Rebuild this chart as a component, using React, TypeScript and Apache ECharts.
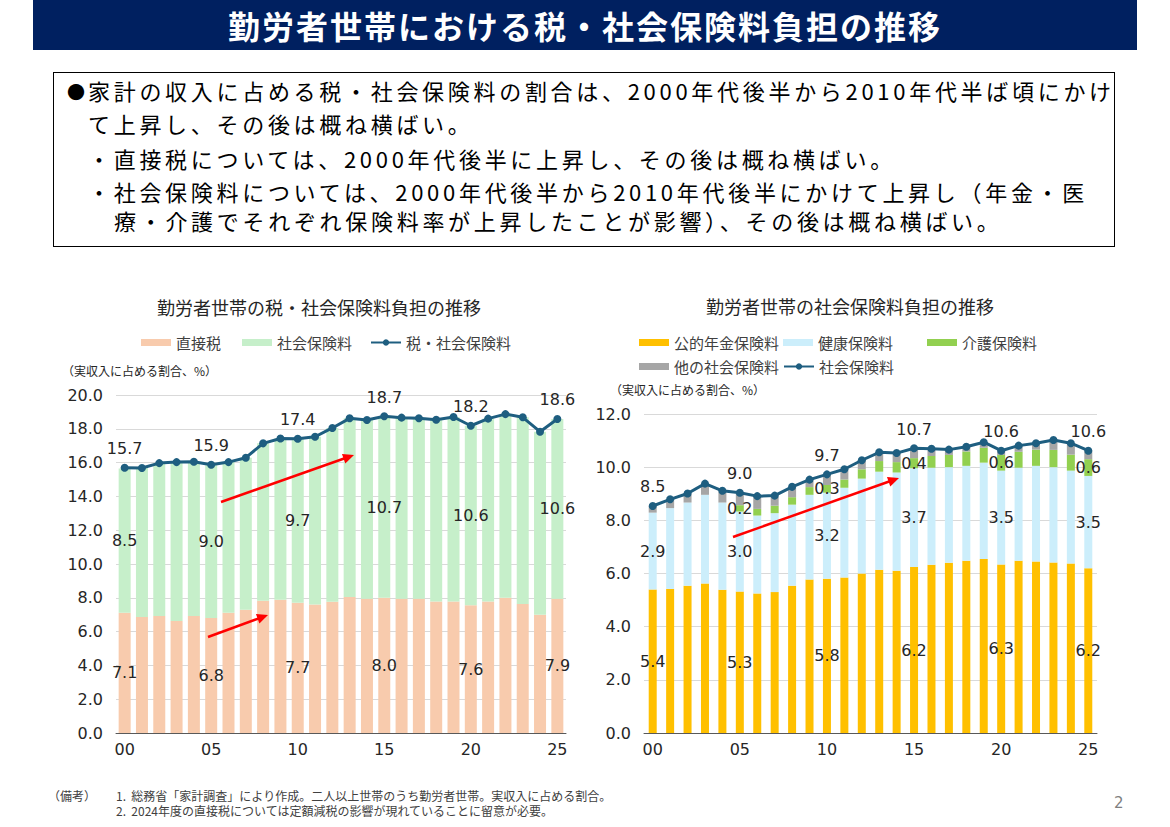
import React, { useEffect, useRef } from "react";
import * as echarts from "echarts";

// ---------- data ----------
const years = ["00","01","02","03","04","05","06","07","08","09","10","11","12","13","14","15","16","17","18","19","20","21","22","23","24","25"];

// left chart (実収入に占める割合、%)
const directTax = [7.11, 6.87, 6.93, 6.63, 6.93, 6.81, 7.11, 7.30, 7.82, 7.88, 7.70, 7.60, 7.76, 8.04, 7.94, 8.00, 7.94, 7.94, 7.78, 7.78, 7.56, 7.78, 8.00, 7.64, 6.99, 7.94];
const socialInsurance = [8.54, 8.81, 9.04, 9.40, 9.12, 9.04, 8.92, 8.99, 9.32, 9.55, 9.71, 9.93, 10.29, 10.58, 10.58, 10.74, 10.72, 10.68, 10.76, 10.92, 10.62, 10.82, 10.87, 11.04, 10.84, 10.64];
const taxAndSocial = [15.70, 15.68, 15.97, 16.03, 16.05, 15.87, 16.03, 16.29, 17.14, 17.43, 17.41, 17.53, 18.05, 18.62, 18.52, 18.74, 18.66, 18.62, 18.54, 18.70, 18.18, 18.60, 18.87, 18.68, 17.83, 18.58];

// right chart
const pension = [5.40, 5.42, 5.54, 5.62, 5.39, 5.32, 5.25, 5.30, 5.54, 5.77, 5.80, 5.85, 6.00, 6.14, 6.10, 6.24, 6.33, 6.40, 6.48, 6.55, 6.34, 6.48, 6.45, 6.41, 6.38, 6.20];
const health = [2.89, 3.04, 3.13, 3.34, 3.28, 3.01, 2.93, 2.97, 3.05, 3.19, 3.24, 3.38, 3.57, 3.69, 3.70, 3.72, 3.65, 3.60, 3.57, 3.62, 3.53, 3.50, 3.60, 3.59, 3.49, 3.47];
const nursingCare = [0, 0, 0, 0, 0, 0.24, 0.25, 0.28, 0.28, 0.29, 0.29, 0.31, 0.35, 0.40, 0.39, 0.38, 0.44, 0.46, 0.54, 0.56, 0.59, 0.60, 0.61, 0.65, 0.60, 0.63];
const otherInsurance = [0.25, 0.33, 0.34, 0.42, 0.44, 0.47, 0.48, 0.38, 0.39, 0.28, 0.40, 0.38, 0.34, 0.33, 0.34, 0.37, 0.27, 0.20, 0.18, 0.21, 0.16, 0.23, 0.24, 0.37, 0.43, 0.32];
const socialTotal = [8.54, 8.79, 9.01, 9.38, 9.11, 9.04, 8.91, 8.93, 9.26, 9.53, 9.73, 9.92, 10.26, 10.56, 10.53, 10.71, 10.69, 10.66, 10.77, 10.94, 10.62, 10.81, 10.90, 11.02, 10.90, 10.62];

// ---------- styles ----------
const JP = '"Noto Sans CJK JP", "Noto Sans CJK SC", sans-serif';
const NUM = '"DejaVu Sans", Verdana, sans-serif';
const TXT = "#262626";
const LINE_COLOR = "#1E5E80";

const every5 = (p: any) => {
  const v = Number(p.value);
  if (p.dataIndex % 5 !== 0 || !v) return "";
  return v.toFixed(1);
};

function arrow(x1: number, y1: number, x2: number, y2: number) {
  const dx = x2 - x1, dy = y2 - y1;
  const len = Math.sqrt(dx * dx + dy * dy);
  const ux = dx / len, uy = dy / len;
  const nx = -uy, ny = ux;
  const hl = 11, hw = 5;
  const bx = x2 - ux * hl, by = y2 - uy * hl;
  return [
    { type: "line", z: 100, shape: { x1, y1, x2: bx + ux * 2, y2: by + uy * 2 }, style: { stroke: "#FF0000", lineWidth: 2.5 } },
    { type: "polygon", z: 100, shape: { points: [[x2, y2], [bx + nx * hw, by + ny * hw], [bx - nx * hw, by - ny * hw]] }, style: { fill: "#FF0000" } },
  ];
}

function label(text: string, x: number, y: number, size: number, align = "center") {
  return {
    type: "text", x, y, z: 100,
    style: { text, fill: TXT, fontSize: size, fontFamily: JP, align, verticalAlign: "middle", textAlign: align, textVerticalAlign: "middle" },
  };
}

function legendItem(name: string, left: number, top: number, bar: boolean) {
  const o: any = {
    left, top, padding: 0, itemWidth: 30, itemHeight: bar ? 7 : 8,
    data: [name], selectedMode: false,
    textStyle: { fontSize: 15, color: "#404040", fontFamily: JP },
  };
  if (bar) o.icon = "rect";
  return o;
}

function baseAxes(max: number) {
  return {
    xAxis: {
      type: "category", data: years,
      axisLine: { lineStyle: { color: "#595959", width: 1 } },
      axisTick: { show: false },
      axisLabel: { interval: 4, fontSize: 16, color: TXT, fontFamily: NUM, margin: 8 },
    },
    yAxis: {
      type: "value", min: 0, max, interval: 2,
      axisLine: { show: false }, axisTick: { show: false },
      axisLabel: { formatter: (v: number) => v.toFixed(1), fontSize: 16, color: TXT, fontFamily: NUM, margin: 13 },
      splitLine: { lineStyle: { color: "#D9D9D9", width: 1 } },
    },
  };
}

const barLabel = { show: true, position: "inside", formatter: every5, fontSize: 16, color: TXT, fontFamily: NUM };
const lineLabel = { show: true, position: "top", distance: 7, formatter: every5, fontSize: 16, color: TXT, fontFamily: NUM };

function leftOption(): any {
  return {
    animation: false,
    textStyle: { fontFamily: JP },
    graphic: [
      label("勤労者世帯の税・社会保険料負担の推移", 319, 27, 18),
      label("（実収入に占める割合、%）", 62, 90, 12, "left"),
      ...arrow(221, 222, 354, 175),
      ...arrow(208, 357, 268, 335),
    ],
    legend: [
      legendItem("直接税", 141, 55, true),
      legendItem("社会保険料", 242, 55, true),
      legendItem("税・社会保険料", 370, 55, false),
    ],
    grid: { left: 116, top: 115, width: 450, height: 338 },
    ...baseAxes(20),
    series: [
      { name: "直接税", type: "bar", stack: "t", barWidth: 12, data: directTax, itemStyle: { color: "#F8CBAD" }, label: barLabel },
      { name: "社会保険料", type: "bar", stack: "t", barWidth: 12, data: socialInsurance, itemStyle: { color: "#C6EFCA" }, label: barLabel },
      {
        name: "税・社会保険料", type: "line", data: taxAndSocial, z: 5,
        symbol: "circle", symbolSize: 8, itemStyle: { color: LINE_COLOR },
        lineStyle: { color: LINE_COLOR, width: 3 }, label: lineLabel,
      },
    ],
  };
}

function rightOption(): any {
  return {
    animation: false,
    textStyle: { fontFamily: JP },
    graphic: [
      label("勤労者世帯の社会保険料負担の推移", 265, 26, 18),
      label("（実収入に占める割合、%）", 25, 109, 12, "left"),
      ...arrow(148, 257, 314, 198),
    ],
    legend: [
      legendItem("公的年金保険料", 54, 55, true),
      legendItem("健康保険料", 198, 55, true),
      legendItem("介護保険料", 342, 55, true),
      legendItem("他の社会保険料", 54, 79, true),
      legendItem("社会保険料", 198, 79, false),
    ],
    grid: { left: 59, top: 134, width: 453, height: 319 },
    ...baseAxes(12),
    series: [
      { name: "公的年金保険料", type: "bar", stack: "s", barWidth: 8, data: pension, itemStyle: { color: "#FFC000" }, label: barLabel },
      { name: "健康保険料", type: "bar", stack: "s", barWidth: 8, data: health, itemStyle: { color: "#CCEEFB" }, label: barLabel },
      { name: "介護保険料", type: "bar", stack: "s", barWidth: 8, data: nursingCare, itemStyle: { color: "#92D050" }, label: barLabel },
      { name: "他の社会保険料", type: "bar", stack: "s", barWidth: 8, data: otherInsurance, itemStyle: { color: "#A6A6A6" } },
      {
        name: "社会保険料", type: "line", data: socialTotal, z: 5,
        symbol: "circle", symbolSize: 8, itemStyle: { color: LINE_COLOR },
        lineStyle: { color: LINE_COLOR, width: 3 }, label: lineLabel,
      },
    ],
  };
}

function Chart({ option, style }: { option: any; style: React.CSSProperties }) {
  const ref = useRef<HTMLDivElement>(null);
  useEffect(() => {
    const chart = echarts.init(ref.current as HTMLDivElement, null, { renderer: "svg" });
    chart.setOption(option);
    return () => chart.dispose();
  }, []);
  return <div ref={ref} style={style} />;
}

const abs = (left: number, top: number, extra: React.CSSProperties = {}): React.CSSProperties => ({
  position: "absolute", left, top, whiteSpace: "nowrap", ...extra,
});

const bodyText: React.CSSProperties = { fontSize: 22, letterSpacing: "3.7px", lineHeight: "22px", color: "#000" };
const noteText: React.CSSProperties = { fontSize: 12, lineHeight: "14px", color: "#404040" };

export default function App() {
  return (
    <div style={{ position: "absolute", left: 0, top: 0, width: 1170, height: 827, background: "#fff", overflow: "hidden", fontFamily: JP }}>
      <div style={{ position: "absolute", left: 33, top: 0, width: 1104, height: 50, background: "#002060", color: "#fff", fontSize: 32, fontWeight: 700, letterSpacing: "2px", display: "flex", alignItems: "center", justifyContent: "center", lineHeight: "50px" }}>
        勤労者世帯における税・社会保険料負担の推移
      </div>
      <div style={{ position: "absolute", left: 53, top: 72, width: 1062, height: 175, border: "1.5px solid #000", boxSizing: "border-box" }} />
      <div style={abs(67, 82, { fontSize: 18, lineHeight: "18px" })}>●</div>
      <div style={abs(88, 79, bodyText)}>家計の収入に占める税・社会保険料の割合は、2000年代後半から2010年代半ば頃にかけ</div>
      <div style={abs(88, 112, bodyText)}>て上昇し、その後は概ね横ばい。</div>
      <div style={abs(88, 147, bodyText)}>・直接税については、2000年代後半に上昇し、その後は概ね横ばい。</div>
      <div style={abs(88, 180, bodyText)}>・社会保険料については、2000年代後半から2010年代後半にかけて上昇し（年金・医</div>
      <div style={abs(114, 209, bodyText)}>療・介護でそれぞれ保険料率が上昇したことが影響）、その後は概ね横ばい。</div>

      <Chart option={leftOption()} style={{ position: "absolute", left: 0, top: 280, width: 585, height: 480 }} />
      <Chart option={rightOption()} style={{ position: "absolute", left: 585, top: 280, width: 585, height: 480 }} />

      <div style={abs(48, 789, noteText)}>（備考）</div>
      <div style={abs(116, 789, noteText)}>1.&nbsp;&nbsp;総務省「家計調査」により作成。二人以上世帯のうち勤労者世帯。実収入に占める割合。</div>
      <div style={abs(116, 804, noteText)}>2.&nbsp;&nbsp;2024年度の直接税については定額減税の影響が現れていることに留意が必要。</div>
      <div style={abs(1114, 794, { fontSize: 15, lineHeight: "18px", color: "#7F7F7F", fontFamily: NUM })}>2</div>
    </div>
  );
}
